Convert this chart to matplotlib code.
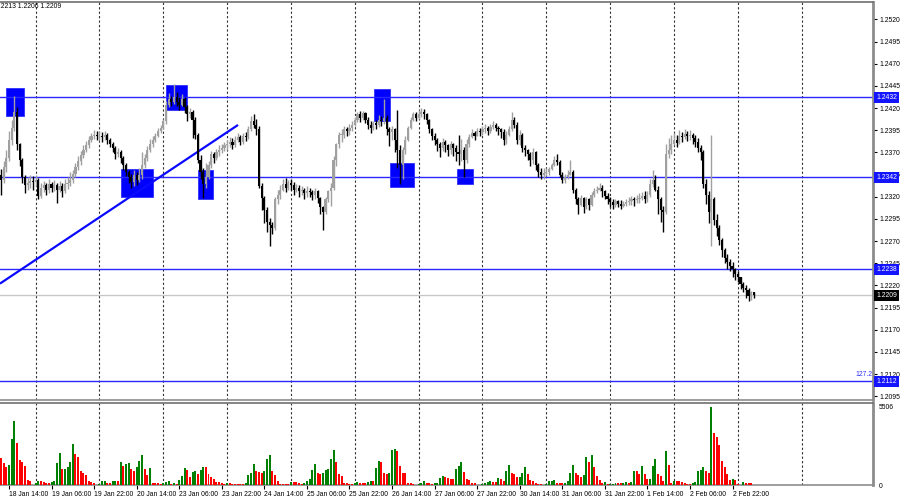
import matplotlib
matplotlib.use("Agg")
import matplotlib.pyplot as plt
import matplotlib.transforms as mtransforms
from matplotlib.patches import Rectangle
import numpy as np

plt.rcParams['font.family'] = ['Liberation Sans', 'DejaVu Sans']

# ---------------- data (GBPUSD H1, bars from 18 Jan 11:00) ----------------
first_open = 1.2345
closes = [
    # 18 Jan
    1.2339, 1.2353, 1.2364, 1.2384, 1.2398, 1.2416, 1.2379, 1.2362, 1.2342, 1.2333, 1.2336, 1.2338, 1.2337,
    # 19 Jan
    1.2339, 1.2321, 1.2330, 1.2333, 1.2328, 1.2334, 1.2330, 1.2333, 1.2328, 1.2332, 1.2327, 1.2334,
    1.2336, 1.2339, 1.2346, 1.2353, 1.2360, 1.2367, 1.2373, 1.2378, 1.2384, 1.2388, 1.2390, 1.2388,
    # 20 Jan
    1.2389, 1.2387, 1.2390, 1.2384, 1.2380, 1.2375, 1.2368, 1.2371, 1.2364, 1.2356, 1.2348, 1.2342,
    1.2337, 1.2345, 1.2339, 1.2344, 1.2356, 1.2364, 1.2373, 1.2379, 1.2384, 1.2389, 1.2394, 1.2398,
    # 23 Jan
    1.2405, 1.2424, 1.2430, 1.2427, 1.2432, 1.2427, 1.2424, 1.2430, 1.2421, 1.2413, 1.2416, 1.2407,
    1.2390, 1.2362, 1.2348, 1.2334, 1.2342, 1.2356, 1.2368, 1.2364, 1.2371, 1.2373, 1.2375, 1.2378,
    # 24 Jan
    1.2379, 1.2382, 1.2378, 1.2384, 1.2387, 1.2382, 1.2389, 1.2387, 1.2396, 1.2405, 1.2401, 1.2396,
    1.2332, 1.2319, 1.2305, 1.2292, 1.2288, 1.2285, 1.2317, 1.2322, 1.2328, 1.2334, 1.2330, 1.2335,
    # 25 Jan
    1.2333, 1.2328, 1.2330, 1.2326, 1.2328, 1.2324, 1.2327, 1.2325, 1.2322, 1.2326, 1.2319, 1.2308,
    1.2303, 1.2317, 1.2326, 1.2330, 1.2362, 1.2379, 1.2390, 1.2390, 1.2396, 1.2394, 1.2398, 1.2401,
    # 26 Jan
    1.2407, 1.2413, 1.2409, 1.2414, 1.2407, 1.2401, 1.2398, 1.2403, 1.2401, 1.2407, 1.2405, 1.2409,
    1.2396, 1.2393, 1.2396, 1.2384, 1.2373, 1.2356, 1.2373, 1.2384, 1.2398, 1.2407, 1.2413, 1.2409,
    # 27 Jan
    1.2413, 1.2416, 1.2413, 1.2407, 1.2396, 1.2389, 1.2384, 1.2379, 1.2375, 1.2382, 1.2378, 1.2373,
    1.2379, 1.2375, 1.2371, 1.2368, 1.2373, 1.2362, 1.2379, 1.2387, 1.2392, 1.2389, 1.2394, 1.2393,
    # 30 Jan
    1.2396, 1.2398, 1.2394, 1.2399, 1.2401, 1.2398, 1.2396, 1.2393, 1.2384, 1.2390, 1.2396, 1.2407,
    1.2401, 1.2384, 1.2390, 1.2375, 1.2373, 1.2368, 1.2362, 1.2371, 1.2356, 1.2348, 1.2345, 1.2347,
    # 31 Jan
    1.2348, 1.2351, 1.2356, 1.2362, 1.2359, 1.2345, 1.2339, 1.2342, 1.2345, 1.2348, 1.2328, 1.2317,
    1.2311, 1.2319, 1.2308, 1.2317, 1.2311, 1.2322, 1.2326, 1.2328, 1.2330, 1.2326, 1.2321, 1.2317,
    # 1 Feb
    1.2314, 1.2311, 1.2315, 1.2312, 1.2310, 1.2312, 1.2314, 1.2315, 1.2317, 1.2316, 1.2318, 1.2319,
    1.2321, 1.2318, 1.2322, 1.2334, 1.2339, 1.2328, 1.2317, 1.2305, 1.2303, 1.2368, 1.2373, 1.2379,
    # 2 Feb
    1.2384, 1.2381, 1.2389, 1.2387, 1.2391, 1.2388, 1.2390, 1.2386, 1.2382, 1.2375, 1.2371, 1.2334,
    1.2322, 1.2303, 1.2317, 1.2294, 1.2285, 1.2271, 1.2260, 1.2251, 1.2246, 1.2242, 1.2238, 1.2233,
    # 3 Feb
    1.2229, 1.2222, 1.2217, 1.2215, 1.2208, 1.2212, 1.2209,
]
highs = [
    1.2351, 1.2360, 1.2373, 1.2394, 1.2407, 1.2434, 1.2421, 1.2381, 1.2364, 1.2345, 1.2342, 1.2344, 1.2343,
    1.2344, 1.2341, 1.2336, 1.2338, 1.2336, 1.2340, 1.2337, 1.2339, 1.2336, 1.2338, 1.2335, 1.2340,
    1.2342, 1.2348, 1.2350, 1.2358, 1.2366, 1.2372, 1.2378, 1.2383, 1.2388, 1.2392, 1.2395, 1.2394,
    1.2394, 1.2393, 1.2394, 1.2392, 1.2386, 1.2382, 1.2377, 1.2375, 1.2373, 1.2366, 1.2358, 1.2350,
    1.2346, 1.2350, 1.2348, 1.2352, 1.2371, 1.2368, 1.2377, 1.2385, 1.2389, 1.2392, 1.2397, 1.2401,
    1.2408, 1.2428, 1.2437, 1.2434, 1.2447, 1.2438, 1.2432, 1.2436, 1.2432, 1.2423, 1.2420, 1.2418,
    1.2410, 1.2392, 1.2367, 1.2352, 1.2358, 1.2360, 1.2372, 1.2370, 1.2374, 1.2378, 1.2380, 1.2382,
    1.2384, 1.2387, 1.2386, 1.2388, 1.2392, 1.2390, 1.2392, 1.2393, 1.2400, 1.2411, 1.2413, 1.2408,
    1.2400, 1.2335, 1.2321, 1.2308, 1.2296, 1.2292, 1.2320, 1.2328, 1.2333, 1.2340, 1.2341, 1.2339,
    1.2340, 1.2337, 1.2334, 1.2333, 1.2332, 1.2330, 1.2332, 1.2330, 1.2328, 1.2330, 1.2328, 1.2320,
    1.2310, 1.2320, 1.2328, 1.2335, 1.2366, 1.2381, 1.2393, 1.2396, 1.2400, 1.2399, 1.2402, 1.2405,
    1.2410, 1.2416, 1.2417, 1.2417, 1.2416, 1.2410, 1.2405, 1.2406, 1.2407, 1.2412, 1.2411, 1.2430,
    1.2412, 1.2399, 1.2400, 1.2398, 1.2418, 1.2378, 1.2376, 1.2388, 1.2400, 1.2410, 1.2416, 1.2416,
    1.2418, 1.2420, 1.2419, 1.2415, 1.2408, 1.2398, 1.2392, 1.2386, 1.2382, 1.2386, 1.2384, 1.2380,
    1.2383, 1.2381, 1.2378, 1.2390, 1.2385, 1.2376, 1.2385, 1.2391, 1.2396, 1.2394, 1.2397, 1.2398,
    1.2400, 1.2402, 1.2400, 1.2402, 1.2405, 1.2403, 1.2400, 1.2398, 1.2396, 1.2394, 1.2400, 1.2416,
    1.2410, 1.2404, 1.2395, 1.2392, 1.2378, 1.2374, 1.2370, 1.2375, 1.2372, 1.2358, 1.2352, 1.2352,
    1.2352, 1.2354, 1.2358, 1.2366, 1.2368, 1.2362, 1.2348, 1.2346, 1.2350, 1.2362, 1.2350, 1.2330,
    1.2320, 1.2322, 1.2320, 1.2320, 1.2319, 1.2325, 1.2330, 1.2332, 1.2336, 1.2333, 1.2328, 1.2324,
    1.2320, 1.2318, 1.2318, 1.2316, 1.2316, 1.2315, 1.2318, 1.2320, 1.2321, 1.2320, 1.2322, 1.2324,
    1.2325, 1.2326, 1.2326, 1.2340, 1.2350, 1.2344, 1.2332, 1.2320, 1.2310, 1.2380, 1.2386, 1.2390,
    1.2392, 1.2390, 1.2395, 1.2393, 1.2396, 1.2394, 1.2395, 1.2392, 1.2390, 1.2386, 1.2378, 1.2373,
    1.2340, 1.2326, 1.2390, 1.2320, 1.2300, 1.2288, 1.2274, 1.2262, 1.2255, 1.2250, 1.2246, 1.2240,
    1.2236, 1.2230, 1.2224, 1.2220, 1.2217, 1.2214, 1.2213,
]
lows = [
    1.2322, 1.2335, 1.2348, 1.2360, 1.2378, 1.2394, 1.2373, 1.2355, 1.2335, 1.2324, 1.2328, 1.2330, 1.2328,
    1.2332, 1.2318, 1.2319, 1.2325, 1.2322, 1.2324, 1.2325, 1.2327, 1.2313, 1.2325, 1.2320, 1.2324,
    1.2329, 1.2332, 1.2335, 1.2342, 1.2350, 1.2356, 1.2364, 1.2370, 1.2375, 1.2382, 1.2385, 1.2384,
    1.2384, 1.2382, 1.2384, 1.2380, 1.2376, 1.2370, 1.2363, 1.2365, 1.2358, 1.2350, 1.2343, 1.2335,
    1.2330, 1.2332, 1.2333, 1.2337, 1.2340, 1.2352, 1.2360, 1.2370, 1.2376, 1.2382, 1.2387, 1.2392,
    1.2396, 1.2402, 1.2421, 1.2422, 1.2425, 1.2422, 1.2418, 1.2422, 1.2415, 1.2405, 1.2409, 1.2386,
    1.2385, 1.2358, 1.2340, 1.2319, 1.2330, 1.2340, 1.2352, 1.2358, 1.2362, 1.2366, 1.2369, 1.2372,
    1.2373, 1.2376, 1.2374, 1.2376, 1.2382, 1.2378, 1.2380, 1.2383, 1.2385, 1.2394, 1.2398, 1.2390,
    1.2330, 1.2305, 1.2290, 1.2280, 1.2264, 1.2278, 1.2282, 1.2312, 1.2318, 1.2326, 1.2325, 1.2328,
    1.2328, 1.2322, 1.2325, 1.2320, 1.2322, 1.2318, 1.2320, 1.2320, 1.2316, 1.2318, 1.2313, 1.2300,
    1.2283, 1.2300, 1.2314, 1.2310, 1.2328, 1.2355, 1.2375, 1.2382, 1.2386, 1.2388, 1.2390, 1.2394,
    1.2400, 1.2404, 1.2404, 1.2407, 1.2403, 1.2396, 1.2392, 1.2395, 1.2396, 1.2399, 1.2400, 1.2402,
    1.2390, 1.2377, 1.2384, 1.2370, 1.2352, 1.2334, 1.2340, 1.2368, 1.2383, 1.2396, 1.2405, 1.2405,
    1.2408, 1.2410, 1.2408, 1.2402, 1.2392, 1.2384, 1.2378, 1.2372, 1.2365, 1.2372, 1.2370, 1.2366,
    1.2368, 1.2366, 1.2360, 1.2356, 1.2360, 1.2342, 1.2358, 1.2376, 1.2386, 1.2384, 1.2388, 1.2388,
    1.2390, 1.2392, 1.2390, 1.2392, 1.2396, 1.2394, 1.2390, 1.2386, 1.2378, 1.2380, 1.2388, 1.2394,
    1.2398, 1.2380, 1.2378, 1.2370, 1.2366, 1.2362, 1.2355, 1.2357, 1.2350, 1.2342, 1.2340, 1.2340,
    1.2343, 1.2345, 1.2350, 1.2355, 1.2356, 1.2342, 1.2335, 1.2336, 1.2340, 1.2344, 1.2324, 1.2312,
    1.2300, 1.2310, 1.2302, 1.2306, 1.2305, 1.2310, 1.2320, 1.2324, 1.2326, 1.2320, 1.2318, 1.2312,
    1.2308, 1.2306, 1.2308, 1.2308, 1.2306, 1.2308, 1.2309, 1.2311, 1.2311, 1.2310, 1.2313, 1.2313,
    1.2316, 1.2313, 1.2314, 1.2320, 1.2331, 1.2326, 1.2300, 1.2292, 1.2280, 1.2300, 1.2364, 1.2368,
    1.2378, 1.2376, 1.2380, 1.2382, 1.2385, 1.2383, 1.2384, 1.2380, 1.2376, 1.2370, 1.2362, 1.2330,
    1.2312, 1.2290, 1.2264, 1.2288, 1.2276, 1.2265, 1.2252, 1.2245, 1.2238, 1.2236, 1.2230, 1.2226,
    1.2224, 1.2216, 1.2212, 1.2206, 1.2202, 1.2204, 1.2206,
]
volumes = [
    1896, 1517, 1232, 1422, 3247, 4503, 2939, 1778, 1635, 1351, 332, 284, 20,
    166, 284, 284, 213, 166, 166, 213, 284, 1517, 2228, 1114, 1130, 1232, 1588, 2891, 2180, 1943, 995, 877, 711, 284, 237, 142, 20,
    95, 284, 300, 166, 142, 284, 300, 280, 1635, 1351, 1469, 1540, 1114, 948, 1232, 1706, 2133, 1114, 711, 1161, 166, 166, 118, 47,
    166, 237, 284, 95, 166, 95, 332, 640, 1161, 1066, 569, 924, 948, 758, 1043, 1280, 1250, 758, 569, 403, 237, 200, 142, 47,
    142, 118, 95, 71, 71, 47, 47, 166, 711, 877, 1469, 995, 924, 877, 995, 1825, 2133, 995, 711, 284, 95, 95, 95, 60,
    213, 213, 190, 166, 95, 166, 284, 403, 1066, 1469, 877, 806, 877, 1043, 1114, 1825, 2465, 1635, 806, 640, 118, 118, 95, 60,
    166, 213, 166, 166, 118, 213, 284, 284, 1185, 1706, 1588, 877, 806, 820, 2465, 2536, 2417, 1351, 877, 877, 166, 118, 47, 30,
    95, 166, 284, 166, 166, 95, 118, 166, 521, 640, 569, 521, 450, 403, 1114, 1351, 1588, 924, 450, 355, 118, 118, 20, 10,
    100, 142, 190, 284, 213, 213, 474, 403, 284, 948, 1398, 877, 758, 569, 580, 877, 1232, 758, 355, 284, 166, 95, 40, 10,
    100, 284, 290, 355, 166, 166, 142, 166, 284, 877, 1422, 877, 711, 569, 711, 1991, 1635, 2133, 1280, 640, 332, 166, 180, 47,
    60, 95, 166, 150, 140, 166, 237, 166, 180, 995, 948, 806, 1351, 806, 403, 420, 1351, 1825, 806, 640, 284, 2417, 1422, 166,
    300, 284, 270, 237, 166, 95, 47, 166, 213, 995, 1043, 1232, 995, 877, 5451, 3674, 3365, 2773, 1706, 1280, 758, 332, 403, 332,
    40, 20, 213, 142, 130, 118, 24,
]
volume_max_label = 5506

date_labels = ['18 Jan 14:00', '19 Jan 06:00', '19 Jan 22:00', '20 Jan 14:00', '23 Jan 06:00',
               '23 Jan 22:00', '24 Jan 14:00', '25 Jan 06:00', '25 Jan 22:00', '26 Jan 14:00',
               '27 Jan 06:00', '27 Jan 22:00', '30 Jan 14:00', '31 Jan 06:00', '31 Jan 22:00',
               '1 Feb 14:00', '2 Feb 06:00', '2 Feb 22:00']
date_label_bars = [3 + 16 * k for k in range(len(date_labels))]
day_start_bars = [13 + 24 * k for k in range(13)]

price_ticks = [1.2095, 1.2120, 1.2145, 1.2170, 1.2195, 1.2220, 1.2245, 1.2270, 1.2295, 1.2320,
               1.2345, 1.2370, 1.2395, 1.2420, 1.2445, 1.2470, 1.2495, 1.2520]
levels = [1.2432, 1.2342, 1.2238, 1.2112]
current_price = 1.2209
header_text = '1.2213 1.2206 1.2209'
fib_label = '127.2'

# annotation objects (bar index, price)
trend_start = (-0.4, 1.2222)
trend_end = (89.1, 1.2401)
boxes = [  # (bar0, bar1, price_low, price_high)
    (1.9, 8.6, 1.2411, 1.2443),
    (45.1, 57.1, 1.2320, 1.2351),
    (62.0, 69.9, 1.2418, 1.2446),
    (74.0, 79.7, 1.2318, 1.2350),
    (140.2, 146.2, 1.2406, 1.2442),
    (146.2, 155.3, 1.2331, 1.2358),
    (171.4, 177.4, 1.2334, 1.2351),
]

# ---------------- drawing ----------------
closes = np.array(closes)
highs = np.array(highs)
lows = np.array(lows)
opens = np.concatenate([[first_open], closes[:-1]])
n = len(closes)
idx = np.arange(n)
highs = np.maximum(highs, np.maximum(opens, closes))
lows = np.minimum(lows, np.minimum(opens, closes))

W, H = 900, 500
FS = 4.9
fig = plt.figure(figsize=(9, 5), dpi=100)
fig.patch.set_facecolor('white')

ax = fig.add_axes([0, (H - 400) / H, 873 / W, 398 / H])
axv = fig.add_axes([0, (H - 485) / H, 873 / W, 82 / H], sharex=ax)

xmin, xmax = -0.38, 327.8
ax.set_xlim(xmin, xmax)
ax.set_ylim(1.20907, 1.25397)

# grid
for b in day_start_bars:
    for a in (ax, axv):
        a.axvline(b, color='#303030', lw=0.8, ls=(0, (2, 2)), zorder=0.5)

# boxes
for b0, b1, p0, p1 in boxes:
    ax.add_patch(Rectangle((b0, p0), b1 - b0, p1 - p0, facecolor='#0000ff',
                           edgecolor='#3030ff', lw=0.6, zorder=1))

# levels
for lv in levels:
    ax.axhline(lv, color='#2828ff', lw=1.0, zorder=2)
ax.axhline(current_price, color='#c8c8c8', lw=1.0, zorder=1.5)

# trendline
ax.plot([trend_start[0], trend_end[0]], [trend_start[1], trend_end[1]],
        color='#0a0aff', lw=1.6, zorder=2, solid_capstyle='butt')

# candles
bull = closes >= opens
col = np.where(bull, '#a0a0a0', '#000000')
ax.vlines(idx, lows, highs, colors=col, lw=1.0, zorder=3)
body_h = np.maximum(np.abs(closes - opens), 0.00006)
ax.bar(idx, body_h, bottom=np.minimum(opens, closes), width=0.8, color=col,
       linewidth=0, zorder=3)

# volumes
vols = np.array(volumes)
prev = np.concatenate([[vols[0]], vols[:-1]])
vcol = np.where(vols > prev, '#008000', '#ff0000')
axv.bar(idx, vols, width=0.75, color=vcol, linewidth=0, zorder=3)
axv.set_ylim(0, volume_max_label * 81 / 77.5)

# spines
for a in (ax, axv):
    a.set_facecolor('white')
    a.spines['left'].set_visible(False)
    a.spines['right'].set_color('#8c8c8c')
    a.spines['right'].set_linewidth(2.0)
    a.spines['top'].set_color('#707070')
    a.spines['top'].set_linewidth(1.2)
    a.spines['bottom'].set_color('#8c8c8c')
    a.spines['bottom'].set_linewidth(1.2)

# price axis
ax.yaxis.tick_right()
ax.set_yticks(price_ticks)
ax.set_yticklabels([f'{t:.4f}' for t in price_ticks])
ax.tick_params(axis='y', direction='out', length=3, width=0.8, pad=1.5,
               labelsize=FS, colors='black')
ax.tick_params(axis='x', bottom=False, labelbottom=False)

tr = mtransforms.blended_transform_factory(ax.transAxes, ax.transData)
for lv in levels:
    ax.text(1.0035, lv, f'{lv:.4f}', transform=tr, ha='left', va='center', fontsize=FS,
            color='white', zorder=10, clip_on=False,
            bbox=dict(boxstyle='square,pad=0.3', fc='#1414ff', ec='none'))
ax.text(1.0035, current_price, f'{current_price:.4f}', transform=tr, ha='left', va='center',
        fontsize=FS, color='white', zorder=10, clip_on=False,
        bbox=dict(boxstyle='square,pad=0.3', fc='black', ec='none'))
ax.text(0.9995, levels[-1] + 0.0008, fib_label, transform=tr, ha='right', va='center',
        fontsize=FS, color='#3030ff', zorder=10)

# volume axis
axv.yaxis.tick_right()
axv.set_yticks([0, volume_max_label])
axv.set_yticklabels(['0', str(volume_max_label)])
axv.tick_params(axis='y', length=0, pad=4, labelsize=FS, colors='black')
axv.set_xticks(date_label_bars)
axv.set_xticklabels(date_labels, ha='left')
axv.tick_params(axis='x', length=3, width=0.8, pad=1.5, labelsize=FS, colors='black')

fig.text(-5.0 / W, 1 - 7 / H, header_text, ha='left', va='center', fontsize=FS, color='black')

fig.savefig('out.png', dpi=100, facecolor='white')
